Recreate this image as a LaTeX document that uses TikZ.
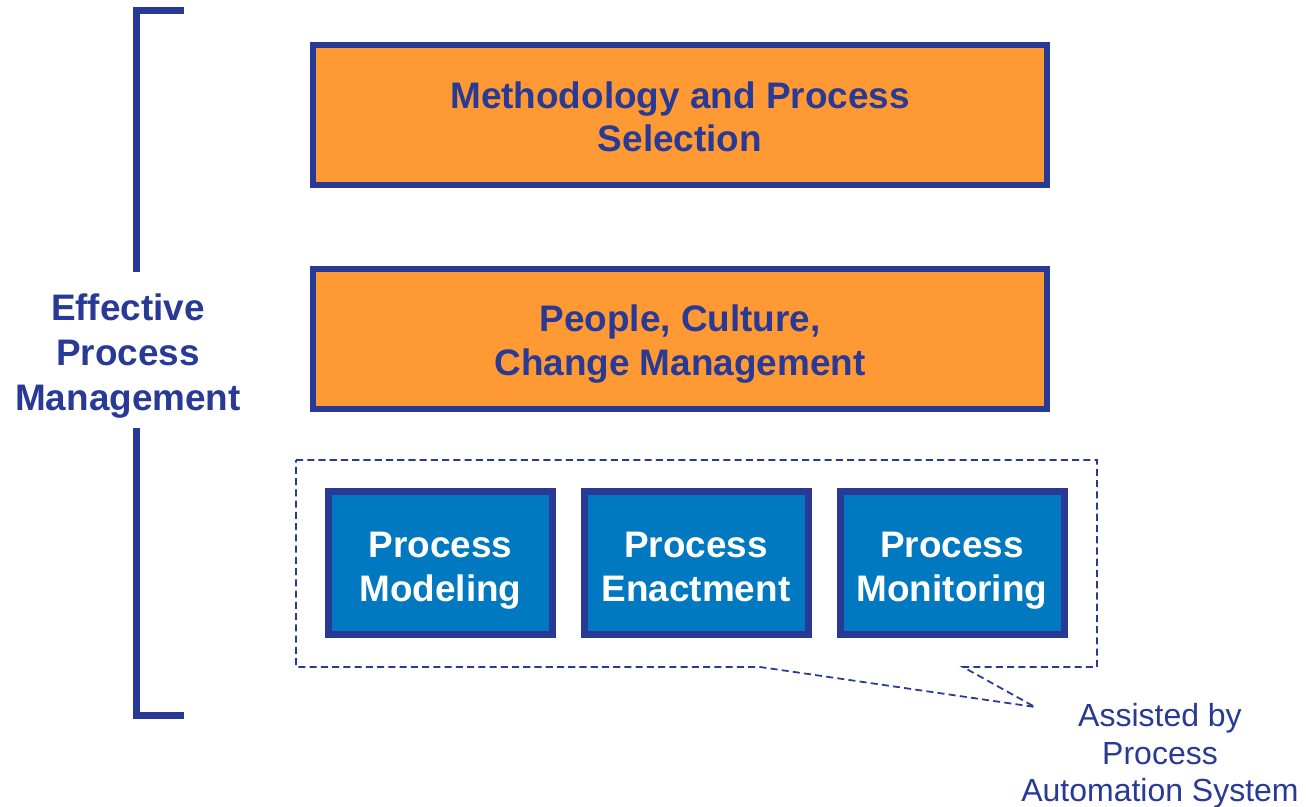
\documentclass[tikz,border=0pt]{standalone}
\usepackage{fontspec}
\setmainfont{Liberation Sans}
\usepackage{tikz}
\usetikzlibrary{calc}
\usetikzlibrary{positioning}
\definecolor{navy}{RGB}{40,57,150}
\definecolor{orangefill}{RGB}{255,153,51}
\definecolor{bluefill}{RGB}{0,121,193}
\newcommand{\padtop}[1]{\rule{0pt}{#1}}
\tikzstyle{layer} = [rectangle, draw=navy, fill=orangefill, line width=0.12cm, minimum width=14.68cm, minimum height=2.8cm, align=center, text=navy, font=\fontsize{21}{24.6}\selectfont\bfseries]
\tikzstyle{tool} = [rectangle, draw=navy, fill=bluefill, line width=0.14cm, minimum width=4.48cm, minimum height=2.86cm, align=center, text=white, font=\fontsize{21}{25}\selectfont\bfseries]
\tikzstyle{callout} = [draw=navy, line width=1pt, dash pattern=on 4pt off 2.4pt]

\begin{document}
\begin{tikzpicture}
\useasboundingbox (0,0) rectangle (26.12,-16.14);
\node [layer] (M) at (13.6, -2.3) {\padtop{17.6pt}Methodology and Process\\Selection};
\node [layer] (P) at (13.6, -6.78) {\padtop{21pt}People, Culture,\\Change Management};
\node [tool] (mod) at (8.81, -11.26) {\padtop{23.3pt}Process\\Modeling\vphantom{g}};
\node [tool] (ena) at (13.92, -11.26) {\padtop{23.3pt}Process\\Enactment\vphantom{g}};
\node [tool] (mon) at (19.04, -11.26) {\padtop{23.3pt}Process\\Monitoring\vphantom{g}};
\coordinate (tip) at (20.7, -14.14);
\draw [callout] (5.92, -9.2) -- (21.94, -9.2) -- (21.94, -13.34) -- (19.26, -13.34) -- (tip) -- (15.2, -13.34) -- (5.92, -13.34) -- cycle;
\node [draw=none, align=center, text=navy, font=\fontsize{18.2}{21.4}\selectfont] (asst) at (23.2, -15.12) {Assisted by\\Process\\Automation System};
\node [draw=none, align=center, text=navy, font=\fontsize{21}{25.6}\selectfont\bfseries] (epm) at (2.56, -7.12) {Effective\\Process\\Management};
\draw [navy, line width=0.14cm] (3.68, -0.22) -- (2.72, -0.22) -- (2.72, -5.44);
\draw [navy, line width=0.14cm] (2.72, -8.56) -- (2.72, -14.3) -- (3.68, -14.3);
\end{tikzpicture}
\end{document}
